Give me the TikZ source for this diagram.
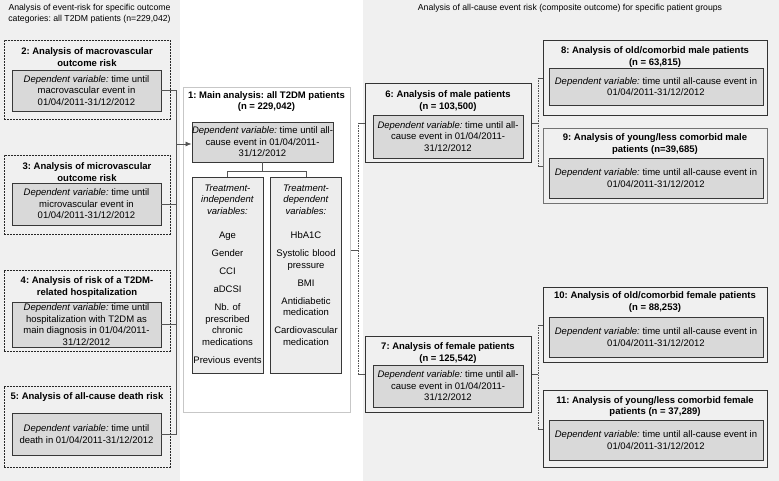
\documentclass[tikz,border=0pt]{standalone}
\usepackage{fontspec}
\setmainfont{Liberation Sans}
\usetikzlibrary{arrows.meta,positioning,calc,shadows}
\definecolor{panelgray}{HTML}{F0F0F0}
\definecolor{depgray}{HTML}{D9D9D9}
\definecolor{treatgray}{HTML}{EDEDED}
\definecolor{linegray}{HTML}{555555}
\newcommand{\figfont}{\fontsize{9.5}{11.5}\selectfont}
\newcommand{\depvar}{\textit{Dependent variable:}}
\frenchspacing
\tikzset{
    note/.style = {
        font = \fontsize{8.7}{11}\selectfont,
        align = center,
        inner sep = 0pt,
        },
    title/.style = {
        font = \figfont\bfseries,
        align = center,
        inner sep = 0pt,
        },
    outer dash/.style = {
        draw = black!85,
        dash pattern = on 2pt off 1pt,
        line width = 0.7pt,
        anchor = north west,
        minimum width = 166pt,
        inner sep = 0pt,
        },
    outer box/.style = {
        draw = black!80,
        line width = 0.9pt,
        anchor = north west,
        inner sep = 0pt,
        },
    main box/.style = {
        draw = black!22,
        line width = 1.4pt,
        fill = white,
        anchor = north west,
        inner sep = 0pt,
        },
    dep box/.style = {
        draw = black!78,
        line width = 0.9pt,
        fill = depgray,
        drop shadow = {shadow xshift=0.9pt, shadow yshift=-0.9pt, fill=black!60, opacity=1},
        align = center,
        inner xsep = 0pt,
        inner ysep = 1pt,
        },
    treat box/.style = {
        draw = black!78,
        line width = 0.8pt,
        fill = treatgray,
        anchor = north,
        text width = 70pt,
        align = center,
        inner xsep = 0.5pt,
        inner ysep = 4pt,
        text height = 10pt,
        text depth = 178pt,
        },
    link/.style = {
        draw = linegray,
        line width = 0.8pt,
        },
    link dashed/.style = {
        link,
        dash pattern = on 1.5pt off 1pt,
        },
}

\begin{document}
\begin{tikzpicture}[x=1pt, y=-1pt, every node/.style={font=\figfont}]
    \useasboundingbox (0,0) rectangle (779,481);
    \fill[panelgray] (0,0) rectangle (180,481);
    \fill[panelgray] (363,0) rectangle (779,481);

    % headers
    \node[note] (hl) at (89.5,13.5) {Analysis of event-risk for specific outcome\\categories: all T2DM patients (n=229,042)};
    \node[note] (hr) at (570,8) {Analysis of all-cause event risk (composite outcome) for specific patient groups};

    % outcome categories
    \node[outer dash, minimum height=79pt] (b2) at (4,40) {};
    \node[title] (t2) at (87,57) {2: Analysis of macrovascular\\outcome risk};
    \node[dep box, minimum width=149pt, minimum height=41pt] (d2) at (86.5,90.5) {\depvar{} time until\\macrovascular event in\\01/04/2011-31/12/2012};

    \node[outer dash, minimum height=79pt] (b3) at (4,155) {};
    \node[title] (t3) at (87,172) {3: Analysis of microvascular\\outcome risk};
    \node[dep box, minimum width=149pt, minimum height=42pt] (d3) at (86.5,204) {\depvar{} time until\\microvascular event in\\01/04/2011-31/12/2012};

    \node[outer dash, minimum height=81pt] (b4) at (4,270) {};
    \node[title] (t4) at (87,287) {4: Analysis of risk of a T2DM-\\related hospitalization};
    \node[dep box, minimum width=149pt, minimum height=45pt] (d4) at (86.5,324.5) {\depvar{} time until\\hospitalization with T2DM as\\main diagnosis in 01/04/2011-\\31/12/2012};

    \node[outer dash, minimum height=81pt] (b5) at (4,386) {};
    \node[title] (t5) at (87,397) {5: Analysis of all-cause death risk};
    \node[dep box, minimum width=149pt, minimum height=42pt] (d5) at (86.5,434) {\depvar{} time until\\death in 01/04/2011-31/12/2012};

    % main analysis
    \node[main box, minimum width=167pt, minimum height=325pt] (b1) at (183,87) {};
    \node[title] (t1) at (266.5,101.5) {1: Main analysis: all T2DM patients\\(n = 229,042)};
    \node[dep box, minimum width=141pt, minimum height=40pt] (d1) at (262.5,142) {\depvar{} time until all-\\cause event in 01/04/2011-\\31/12/2012};
    \node[treat box] (ti) at (227.5,177) {\textit{Treatment-}\\\textit{independent}\\\textit{variables:}\\[13pt]Age\\[6.5pt]Gender\\[6.5pt]CCI\\[6.5pt]aDCSI\\[6.5pt]Nb. of\\prescribed\\chronic\\medications\\[6.5pt]Previous events};
    \node[treat box] (td) at (306,177) {\textit{Treatment-}\\\textit{dependent}\\\textit{variables:}\\[13pt]HbA1C\\[6.5pt]Systolic blood\\pressure\\[6.5pt]BMI\\[6.5pt]Antidiabetic\\medication\\[6.5pt]Cardiovascular\\medication};

    % patient groups
    \node[outer box, minimum width=166pt, minimum height=79pt] (b6) at (365,83) {};
    \node[title] (t6) at (448,101) {6: Analysis of male patients\\(n = 103,500)};
    \node[dep box, minimum width=150pt, minimum height=43pt] (d6) at (448,136.5) {\depvar{} time until all-\\cause event in 01/04/2011-\\31/12/2012};

    \node[outer box, minimum width=166pt, minimum height=76pt] (b7) at (365,336) {};
    \node[title] (t7) at (448,353) {7: Analysis of female patients\\(n = 125,542)};
    \node[dep box, minimum width=150pt, minimum height=42pt] (d7) at (448,386) {\depvar{} time until all-\\cause event in 01/04/2011-\\31/12/2012};

    \node[outer box, minimum width=224pt, minimum height=75pt] (b8) at (543,40) {};
    \node[title] (t8) at (655,57) {8: Analysis of old/comorbid male patients\\(n = 63,815)};
    \node[dep box, minimum width=214pt, minimum height=37pt] (d8) at (656,86.5) {\depvar{} time until all-cause event in\\01/04/2011-31/12/2012};

    \node[outer box, draw=black!55, minimum width=224pt, minimum height=75pt] (b9) at (543,128) {};
    \node[title] (t9) at (655,144) {9: Analysis of young/less comorbid male\\patients (n=39,685)};
    \node[dep box, minimum width=214pt, minimum height=40pt] (d9) at (656,178) {\depvar{} time until all-cause event in\\01/04/2011-31/12/2012};

    \node[outer box, minimum width=224pt, minimum height=75pt] (b10) at (543,287) {};
    \node[title] (t10) at (655,302) {10: Analysis of old/comorbid female patients\\(n = 88,253)};
    \node[dep box, minimum width=214pt, minimum height=40pt] (d10) at (656,337) {\depvar{} time until all-cause event in\\01/04/2011-31/12/2012};

    \node[outer box, minimum width=224pt, minimum height=77pt] (b11) at (543,390) {};
    \node[title] (t11) at (655,406.5) {11: Analysis of young/less comorbid female\\patients (n = 37,289)};
    \node[dep box, minimum width=214pt, minimum height=40pt] (d11) at (656,440) {\depvar{} time until all-cause event in\\01/04/2011-31/12/2012};

    % connectors left
    \coordinate (jl) at (176,144);
    \draw[link] (d2.east) -| (jl);
    \draw[link] (d3.east) -| (jl);
    \draw[link] (d4.east) -| (jl);
    \draw[link] (d5.east) -| (jl);
    \draw[link, -{Latex[length=6pt, width=5pt]}] (jl) -- (jl -| d1.west);

    % connectors inside main box
    \draw[link] (d1.south) -- ++(0,9) coordinate (br);
    \draw[link] (br) -| (ti.north);
    \draw[link] (br) -| (td.north);

    % connectors right
    \draw[link] (b1.east) -- ++(7,0) coordinate (jm);
    \draw[link dashed] (jm |- b6.west) -- (jm |- b7.west);
    \draw[link] (jm |- b6.west) -- (b6.west);
    \draw[link] (jm |- b7.west) -- (b7.west);

    \draw[link] (b6.east) -- ++(6,0) coordinate (jr6);
    \draw[link dashed] (jr6 |- b8.west) -- (jr6 |- b9.west);
    \draw[link] (jr6 |- b8.west) -- (b8.west);
    \draw[link] (jr6 |- b9.west) -- (b9.west);

    \draw[link] (b7.east) -- ++(6,0) coordinate (jr7);
    \draw[link dashed] (jr7 |- b10.west) -- (jr7 |- b11.west);
    \draw[link] (jr7 |- b10.west) -- (b10.west);
    \draw[link] (jr7 |- b11.west) -- (b11.west);
\end{tikzpicture}
\end{document}
